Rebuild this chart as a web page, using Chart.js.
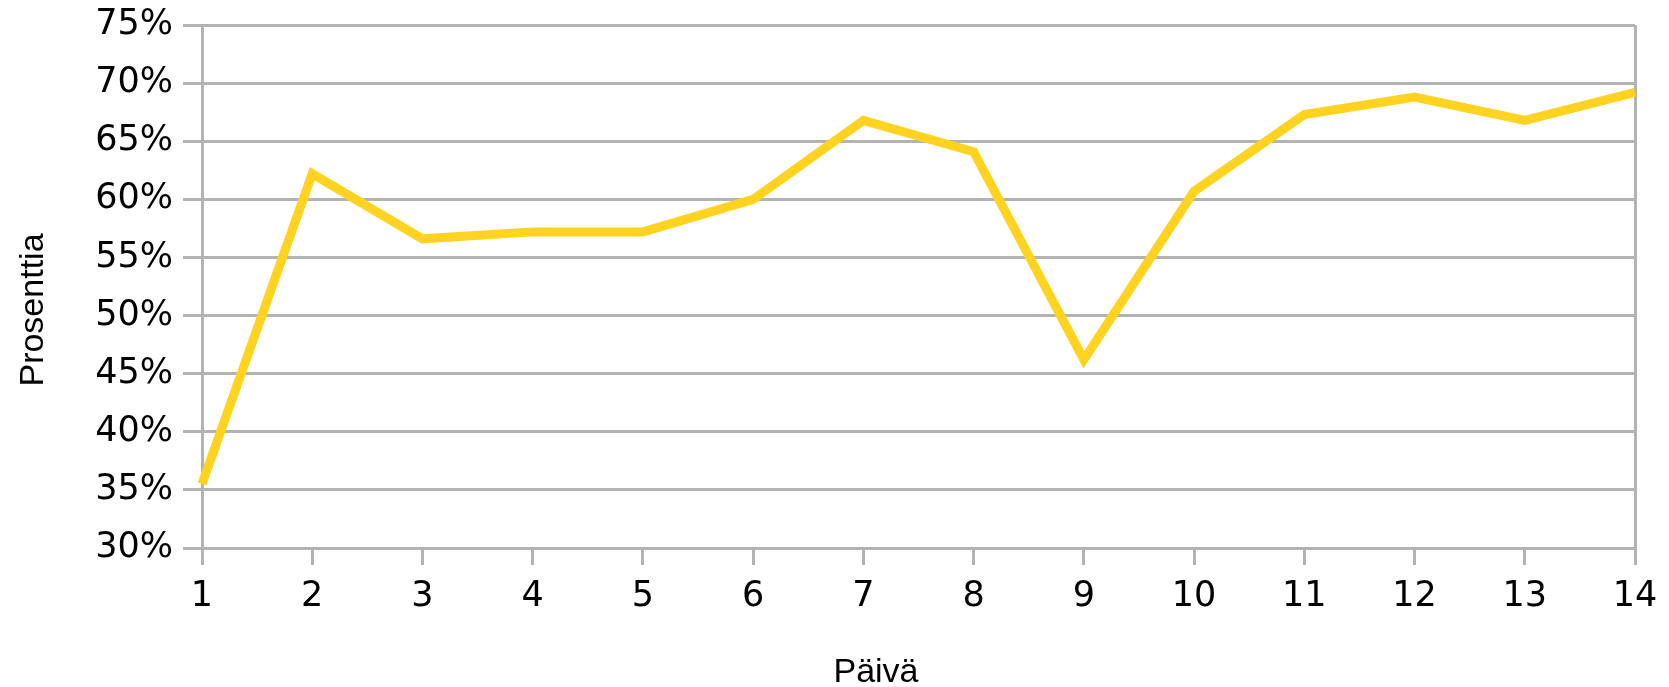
<!DOCTYPE html>
<html>
<head>
<meta charset="utf-8">
<script src="https://cdn.jsdelivr.net/npm/chart.js@4.4.1/dist/chart.umd.min.js"></script>
<style>
  html, body { margin: 0; padding: 0; background: #ffffff; }
  #wrap { width: 1669px; height: 687px; position: relative; }
</style>
</head>
<body>
<div id="wrap"><canvas id="c" width="1669" height="687"></canvas></div>
<script>
// ---- data ----
const days = ['1','2','3','4','5','6','7','8','9','10','11','12','13','14'];
const percentValues = [35.5, 62.2, 56.6, 57.2, 57.2, 60.0, 66.8, 64.1, 46.2, 60.7, 67.3, 68.8, 66.8, 69.2];
const yTickValues = [30, 35, 40, 45, 50, 55, 60, 65, 70, 75];
const xAxisTitle = 'Päivä';
const yAxisTitle = 'Prosenttia';

// ---- styles ----
const GRID = '#b3b3b3';
const LINE = '#ffd320';
const TICK_FONT = { family: '"DejaVu Sans", sans-serif', size: 35 };
const TITLE_FONT = '34px "Liberation Sans", Arial, sans-serif';

const axisTitlePlugin = {
  id: 'axisTitlePlugin',
  afterDraw(chart) {
    const ctx = chart.ctx;
    ctx.save();
    ctx.fillStyle = '#000000';
    ctx.font = TITLE_FONT;
    ctx.textAlign = 'center';
    ctx.textBaseline = 'alphabetic';
    ctx.fillText(xAxisTitle, 876, 682);
    ctx.translate(43, 310);
    ctx.rotate(-Math.PI / 2);
    ctx.fillText(yAxisTitle, 0, 0);
    ctx.restore();
  }
};

new Chart(document.getElementById('c'), {
  type: 'line',
  data: {
    labels: days,
    datasets: [{
      data: percentValues,
      borderColor: LINE,
      backgroundColor: LINE,
      borderWidth: 9,
      pointRadius: 0,
      pointHoverRadius: 0,
      tension: 0,
      fill: false
    }]
  },
  options: {
    responsive: false,
    animation: false,
    devicePixelRatio: 1,
    layout: { padding: { top: 25, right: 34, bottom: 0, left: 0 } },
    plugins: { legend: { display: false }, tooltip: { enabled: false } },
    scales: {
      x: {
        type: 'category',
        offset: false,
        afterFit(scale) { scale.height = 139; scale.paddingLeft = 0; scale.paddingRight = 0; },
        border: { display: true, color: GRID, width: 3 },
        grid: {
          drawOnChartArea: true,
          drawTicks: true,
          tickLength: 17,
          lineWidth: 3,
          tickColor: GRID,
          tickWidth: 3,
          color: (ctx) => (ctx.index === days.length - 1 ? GRID : 'rgba(0,0,0,0)')
        },
        ticks: { color: '#000000', font: TICK_FONT, padding: 11, maxRotation: 0, autoSkip: false }
      },
      y: {
        min: 30,
        max: 75,
        afterFit(scale) { scale.width = 202; scale.paddingTop = 0; scale.paddingBottom = 0; },
        afterBuildTicks(scale) { scale.ticks = yTickValues.map(v => ({ value: v })); },
        border: { display: true, color: GRID, width: 3 },
        grid: {
          color: GRID,
          lineWidth: 3,
          tickLength: 19,
          tickColor: GRID,
          tickWidth: 3
        },
        ticks: {
          color: '#000000',
          font: TICK_FONT,
          padding: 10,
          callback: (v) => v + '%'
        }
      }
    }
  },
  plugins: [axisTitlePlugin]
});
</script>
</body>
</html>
